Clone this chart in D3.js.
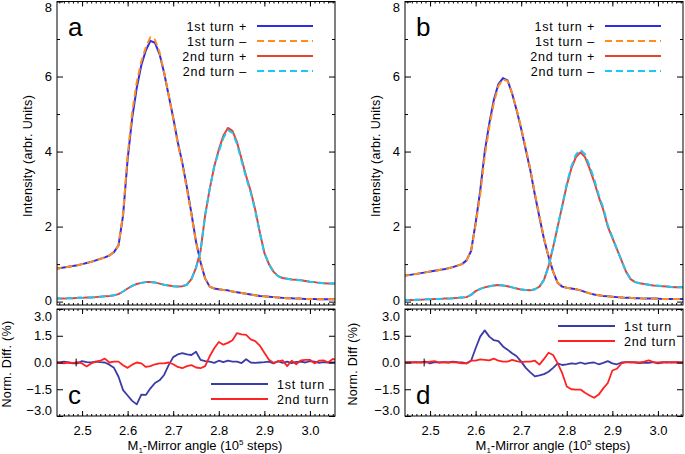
<!DOCTYPE html>
<html>
<head>
<meta charset="utf-8">
<script src="https://cdn.jsdelivr.net/npm/d3@7"></script>
<style>
  body { margin: 0; background: #fff; }
  svg { display: block; font-family: "Liberation Sans", Arial, sans-serif; }
</style>
</head>
<body>
<svg id="chart" width="685" height="454"></svg>
<script>
// mirror angle, 10^5 steps
const angle = [2.44, 2.45, 2.46, 2.47, 2.48, 2.49, 2.50, 2.51, 2.52, 2.53, 2.54, 2.55, 2.56, 2.57, 2.58, 2.59,
  2.60, 2.61, 2.62, 2.63, 2.64, 2.65, 2.66, 2.67, 2.68, 2.69, 2.70, 2.71, 2.72, 2.73, 2.74, 2.75, 2.76, 2.77, 2.78, 2.79,
  2.80, 2.81, 2.82, 2.83, 2.84, 2.85, 2.86, 2.87, 2.88, 2.89, 2.90, 2.91, 2.92, 2.93, 2.94, 2.95, 2.96, 2.97, 2.98, 2.99,
  3.00, 3.01, 3.02, 3.03, 3.04, 3.05, 3.06];

// panel a intensities
const a1stPlus = [0.87, 0.89, 0.91, 0.93, 0.95, 0.97, 1.00, 1.03, 1.06, 1.10, 1.14, 1.18, 1.23, 1.32, 1.50, 2.30,
  3.80, 4.90, 5.70, 6.30, 6.70, 6.95, 6.90, 6.60, 6.10, 5.50, 4.90, 4.25, 3.70, 3.05, 2.35, 1.60, 1.05, 0.62, 0.40, 0.35,
  0.33, 0.31, 0.30, 0.27, 0.25, 0.23, 0.21, 0.19, 0.17, 0.15, 0.14, 0.13, 0.12, 0.11, 0.10, 0.09, 0.09, 0.08, 0.08, 0.07,
  0.07, 0.07, 0.06, 0.06, 0.06, 0.06, 0.06];
const a1stMinus = [0.87, 0.89, 0.91, 0.93, 0.95, 0.97, 1.00, 1.03, 1.06, 1.10, 1.14, 1.18, 1.23, 1.32, 1.50, 2.35,
  3.90, 5.05, 5.85, 6.40, 6.78, 7.05, 6.98, 6.65, 6.12, 5.50, 4.88, 4.22, 3.66, 3.00, 2.32, 1.58, 1.05, 0.62, 0.40, 0.35,
  0.33, 0.31, 0.30, 0.27, 0.25, 0.23, 0.21, 0.19, 0.17, 0.15, 0.14, 0.13, 0.12, 0.11, 0.10, 0.09, 0.09, 0.08, 0.08, 0.07,
  0.07, 0.07, 0.06, 0.06, 0.06, 0.06, 0.06];
const a2ndPlus = [0.08, 0.08, 0.08, 0.09, 0.09, 0.10, 0.10, 0.11, 0.11, 0.12, 0.13, 0.14, 0.15, 0.17, 0.20, 0.27,
  0.35, 0.42, 0.47, 0.50, 0.52, 0.52, 0.51, 0.48, 0.45, 0.43, 0.41, 0.40, 0.41, 0.45, 0.60, 0.90, 1.35, 2.30, 3.00, 3.60,
  4.05, 4.42, 4.63, 4.55, 4.25, 3.80, 3.35, 2.95, 2.45, 1.85, 1.30, 1.00, 0.80, 0.68, 0.63, 0.61, 0.59, 0.58, 0.57, 0.55,
  0.53, 0.52, 0.50, 0.49, 0.48, 0.48, 0.48];
const a2ndMinus = [0.08, 0.08, 0.08, 0.09, 0.09, 0.10, 0.10, 0.11, 0.11, 0.12, 0.13, 0.14, 0.15, 0.17, 0.20, 0.27,
  0.35, 0.42, 0.47, 0.50, 0.52, 0.52, 0.51, 0.48, 0.45, 0.43, 0.41, 0.40, 0.41, 0.45, 0.60, 0.90, 1.35, 2.30, 3.00, 3.60,
  4.00, 4.36, 4.57, 4.50, 4.20, 3.75, 3.30, 2.91, 2.42, 1.83, 1.30, 1.00, 0.80, 0.68, 0.63, 0.61, 0.59, 0.58, 0.57, 0.55,
  0.53, 0.52, 0.50, 0.49, 0.48, 0.48, 0.48];

// panel b intensities
const b1stPlus = [0.69, 0.70, 0.72, 0.74, 0.76, 0.78, 0.80, 0.82, 0.84, 0.86, 0.89, 0.92, 0.96, 1.00, 1.10, 1.35,
  2.10, 2.95, 4.00, 4.75, 5.38, 5.80, 5.96, 5.90, 5.55, 5.10, 4.60, 4.05, 3.50, 2.85, 2.25, 1.67, 1.20, 0.80, 0.50, 0.40,
  0.37, 0.35, 0.33, 0.30, 0.26, 0.22, 0.19, 0.17, 0.15, 0.14, 0.13, 0.12, 0.11, 0.10, 0.10, 0.09, 0.09, 0.08, 0.08, 0.08,
  0.08, 0.07, 0.07, 0.07, 0.07, 0.07, 0.07];
const b1stMinus = [0.69, 0.70, 0.72, 0.74, 0.76, 0.78, 0.80, 0.82, 0.84, 0.86, 0.89, 0.92, 0.96, 1.00, 1.10, 1.35,
  2.05, 2.85, 3.88, 4.66, 5.30, 5.75, 5.92, 5.88, 5.55, 5.12, 4.63, 4.09, 3.54, 2.89, 2.28, 1.69, 1.20, 0.80, 0.50, 0.40,
  0.37, 0.35, 0.33, 0.30, 0.26, 0.22, 0.19, 0.17, 0.15, 0.14, 0.13, 0.12, 0.11, 0.10, 0.10, 0.09, 0.09, 0.08, 0.08, 0.08,
  0.08, 0.07, 0.07, 0.07, 0.07, 0.07, 0.07];
const b2ndPlus = [0.04, 0.04, 0.04, 0.05, 0.05, 0.06, 0.06, 0.07, 0.07, 0.08, 0.08, 0.09, 0.10, 0.11, 0.12, 0.18,
  0.28, 0.34, 0.38, 0.41, 0.43, 0.44, 0.43, 0.41, 0.38, 0.35, 0.32, 0.31, 0.30, 0.33, 0.40, 0.58, 0.95, 1.45, 2.00, 2.55,
  3.10, 3.55, 3.85, 3.98, 3.85, 3.55, 3.20, 2.80, 2.45, 2.00, 1.70, 1.40, 1.10, 0.80, 0.60, 0.52, 0.49, 0.47, 0.45, 0.43,
  0.42, 0.41, 0.40, 0.39, 0.38, 0.38, 0.38];
const b2ndMinus = [0.04, 0.04, 0.04, 0.05, 0.05, 0.06, 0.06, 0.07, 0.07, 0.08, 0.08, 0.09, 0.10, 0.11, 0.12, 0.18,
  0.28, 0.34, 0.38, 0.41, 0.43, 0.44, 0.43, 0.41, 0.38, 0.35, 0.32, 0.31, 0.30, 0.33, 0.40, 0.58, 0.94, 1.44, 2.00, 2.55,
  3.15, 3.60, 3.92, 4.05, 3.93, 3.62, 3.27, 2.85, 2.50, 2.04, 1.72, 1.40, 1.10, 0.80, 0.60, 0.52, 0.49, 0.47, 0.45, 0.43,
  0.42, 0.41, 0.40, 0.39, 0.38, 0.38, 0.38];

// normalized differences, %
const c1st = [0.00, 0.00, 0.05, 0.00, -0.05, -0.05, 0.08, 0.02, 0.00, 0.05, 0.02, 0.00, -0.12, -0.30, -0.80, -1.55,
  -1.85, -2.15, -2.35, -1.80, -1.82, -1.45, -1.15, -1.00, -0.70, -0.15, 0.30, 0.45, 0.52, 0.45, 0.42, 0.60, 0.15, 0.08, 0.05, -0.02,
  0.10, 0.02, 0.10, 0.05, 0.05, -0.03, 0.18, 0.00, -0.02, 0.00, 0.02, 0.05, -0.05, 0.08, -0.02, 0.05, -0.03, 0.03, 0.05, 0.00,
  0.08, 0.05, -0.02, 0.02, 0.00, 0.00, 0.02];
const c2nd = [0.00, 0.00, -0.05, 0.00, -0.02, 0.02, -0.05, -0.22, -0.05, 0.05, 0.10, 0.22, 0.00, 0.05, 0.05, -0.15,
  -0.30, -0.12, 0.00, -0.05, -0.25, -0.20, -0.10, -0.05, -0.05, 0.00, -0.10, -0.25, -0.32, -0.20, -0.15, -0.28, -0.32, -0.20, 0.35, 0.80,
  1.15, 1.00, 1.10, 1.25, 1.65, 1.58, 1.55, 1.30, 1.20, 0.95, 0.55, 0.15, -0.02, 0.05, 0.12, -0.20, 0.10, -0.10, 0.12, 0.15,
  0.15, -0.05, 0.10, 0.12, 0.00, 0.20, 0.10];
const d1st = [0.00, 0.02, 0.00, 0.02, 0.00, 0.05, -0.05, 0.02, 0.00, 0.02, 0.00, 0.05, 0.02, 0.00, -0.05, 0.10,
  0.80, 1.45, 1.80, 1.45, 1.25, 1.20, 0.90, 0.72, 0.52, 0.35, 0.05, -0.30, -0.55, -0.78, -0.72, -0.65, -0.52, -0.30, -0.05, -0.14,
  -0.10, -0.05, -0.08, 0.00, -0.08, -0.02, 0.00, -0.10, -0.02, 0.08, -0.05, -0.10, 0.00, 0.02, 0.02, 0.00, -0.03, 0.00, -0.02, 0.02,
  -0.05, 0.00, 0.02, 0.00, 0.02, 0.00, 0.00];
const d2nd = [0.02, 0.00, 0.02, 0.00, 0.02, 0.00, 0.05, 0.08, 0.00, 0.02, 0.00, 0.02, 0.00, -0.05, -0.05, 0.10,
  0.10, 0.18, 0.15, 0.12, 0.22, 0.10, 0.05, 0.05, 0.15, 0.08, 0.02, 0.05, 0.05, 0.10, -0.12, 0.20, 0.55, 0.42, -0.05, -0.60,
  -1.35, -1.50, -1.52, -1.52, -1.70, -1.85, -1.98, -1.80, -1.45, -1.15, -0.45, -0.35, -0.05, 0.02, 0.00, 0.02, 0.00, 0.05, 0.12, 0.02,
  0.00, 0.02, 0.00, 0.02, 0.00, 0.00, 0.00];
const markAngle = [2.487];

const angleTicks = [2.5, 2.6, 2.7, 2.8, 2.9, 3.0];
const intensityTicks = [0, 2, 4, 6, 8];
const intensityMinor = [1, 3, 5, 7];
const diffTicks = [-3.0, -1.5, 0.0, 1.5, 3.0];

const C = {
    blue: "#2d2de6", orange: "#ff8c1c", red: "#e5432f", cyan: "#1ec6f7",
    dBlue: "#3b3ba8", dRed: "#ff2222"
};
const FONT = 13;

const svg = d3.select("#chart");
const defs = svg.append("defs");

function frame(id, left, top, w, h, xDomain, yDomain) {
    const x = d3.scaleLinear().domain(xDomain).range([left, left + w]);
    const y = d3.scaleLinear().domain(yDomain).range([top + h, top]);
    defs.append("clipPath").attr("id", id)
        .append("rect").attr("x", left).attr("y", top).attr("width", w).attr("height", h);
    const g = svg.append("g");
    const plot = g.append("g").attr("clip-path", `url(#${id})`);
    return { x, y, g, plot, left, top, w, h };
}

function ticks(p, yMajor, yMinor, yFmt, showX) {
    const minorX = p.x.ticks(60);
    const add = (axis, tr) => {
        const a = p.g.append("g").attr("transform", tr).call(axis);
        a.select(".domain").remove();
        a.selectAll("text").style("font-size", FONT + "px").style("font-family", "inherit");
        return a;
    };
    const bottom = `translate(0,${p.top + p.h})`, topT = `translate(0,${p.top})`;
    add(d3.axisBottom(p.x).tickValues(minorX).tickSize(-2).tickFormat(""), bottom);
    add(d3.axisTop(p.x).tickValues(minorX).tickSize(-2).tickFormat(""), topT);
    add(d3.axisTop(p.x).tickValues(angleTicks).tickSize(-5).tickFormat(""), topT);
    add(d3.axisBottom(p.x).tickValues(angleTicks).tickSize(-5).tickPadding(9.5)
        .tickFormat(showX ? d3.format(".1f") : ""), bottom);
    const yl = add(d3.axisLeft(p.y).tickValues(yMajor).tickSize(-6).tickPadding(5).tickFormat(yFmt),
        `translate(${p.left},0)`);
    add(d3.axisRight(p.y).tickValues(yMajor).tickSize(-6).tickFormat(""), `translate(${p.left + p.w},0)`);
    if (yMinor) {
        add(d3.axisLeft(p.y).tickValues(yMinor).tickSize(-3).tickFormat(""), `translate(${p.left},0)`);
        add(d3.axisRight(p.y).tickValues(yMinor).tickSize(-3).tickFormat(""), `translate(${p.left + p.w},0)`);
    }
    p.g.selectAll("line").attr("stroke", "#000");
    p.g.append("rect").attr("x", p.left).attr("y", p.top).attr("width", p.w).attr("height", p.h)
        .attr("fill", "none").attr("stroke", "#000").attr("stroke-width", 1);
    return yl;
}

function curve(p, vals, color, dash, width) {
    const line = d3.line().x((d, i) => p.x(angle[i])).y(d => p.y(d));
    p.plot.append("path").datum(vals).attr("d", line)
        .attr("fill", "none").attr("stroke", color).attr("stroke-width", width)
        .attr("stroke-dasharray", dash || null).attr("stroke-linejoin", "round");
}

function text(x, y, str, size, anchor) {
    return svg.append("text").attr("x", x).attr("y", y).attr("font-size", size)
        .attr("text-anchor", anchor || "start").text(str);
}

function xTitle(cx, y) {
    const t = svg.append("text").attr("x", cx).attr("y", y).attr("font-size", FONT).attr("text-anchor", "middle");
    t.append("tspan").text("M");
    t.append("tspan").attr("dy", 3).attr("font-size", 8).text("1");
    t.append("tspan").attr("dy", -3).text("-Mirror angle (10");
    t.append("tspan").attr("dy", -5).attr("font-size", 8).text("5");
    t.append("tspan").attr("dy", 5).text(" steps)");
}

function yTitle(x, cy, str) {
    svg.append("text").attr("transform", `translate(${x},${cy}) rotate(-90)`)
        .attr("text-anchor", "middle").attr("font-size", 12.5).attr("letter-spacing", 0.3).text(str);
}

const xDom = [2.445, 3.055];
const legendTop = ["1st turn +", "1st turn \u2013", "2nd turn +", "2nd turn \u2013"];
const legendBottom = ["1st turn", "2nd turn"];

function topPanel(id, left, letter, s1p, s1m, s2p, s2m) {
    const p = frame(id, left, 1.5, 278, 303.5, xDom, [-0.09, 8]);
    curve(p, s1p, C.blue, null, 2);
    curve(p, s1m, C.orange, "7,4", 2);
    curve(p, s2p, C.red, null, 2);
    curve(p, s2m, C.cyan, "7,4", 2);
    const yl = ticks(p, intensityTicks, intensityMinor, d3.format("d"), false);
    yl.selectAll(".tick").filter(d => d === 8).select("text").attr("dy", "0.78em");
    yl.selectAll(".tick").filter(d => d === 0).select("text").attr("dy", "0.2em");
    text(left + 11, 36, letter, 26);
    const styles = [[C.blue, null], [C.orange, "7,4"], [C.red, null], [C.cyan, "7,4"]];
    legendTop.forEach((lab, i) => {
        const yy = 26 + i * 15;
        text(left + 190, yy + 4.5, lab, 12.5, "end").attr("letter-spacing", 0.8);
        svg.append("line").attr("x1", left + 200).attr("x2", left + 256).attr("y1", yy).attr("y2", yy)
            .attr("stroke", styles[i][0]).attr("stroke-width", 2).attr("stroke-dasharray", styles[i][1]);
    });
    yTitle(left - 25, 156, "Intensity (arbr. Units)");
}

function bottomPanel(id, left, letter, s1, s2, legX, legY, yLabel) {
    const p = frame(id, left, 309, 278, 107, xDom, [-3, 3]);
    curve(p, s1, C.dBlue, null, 1.8);
    curve(p, s2, C.dRed, null, 1.8);
    markAngle.forEach(a => {
        p.plot.append("line").attr("x1", p.x(a)).attr("x2", p.x(a))
            .attr("y1", p.y(0.22)).attr("y2", p.y(-0.22)).attr("stroke", C.dBlue).attr("stroke-width", 1);
    });
    const yl = ticks(p, diffTicks, null, d3.format(".1f"), true);
    yl.selectAll(".tick text").text(d => d3.format(".1f")(d).replace("-", "\u2212"));
    yl.selectAll(".tick").filter(d => d === 3).select("text").attr("dy", "0.86em");
    yl.selectAll(".tick").filter(d => d === -3).select("text").attr("dy", "-0.1em");
    text(left + 11, 404, letter, 26);
    [C.dBlue, C.dRed].forEach((c, i) => {
        const yy = legY + i * 15;
        svg.append("line").attr("x1", legX).attr("x2", legX + 57).attr("y1", yy).attr("y2", yy)
            .attr("stroke", c).attr("stroke-width", 1.8);
        text(legX + 66, yy + 4.5, legendBottom[i], 12.5).attr("letter-spacing", 0.8);
    });
    yLabel();
    xTitle(left + 148, 450);
}

topPanel("clipA", 57, "a", a1stPlus, a1stMinus, a2ndPlus, a2ndMinus);
topPanel("clipB", 405, "b", b1stPlus, b1stMinus, b2ndPlus, b2ndMinus);
bottomPanel("clipC", 57, "c", c1st, c2nd, 211, 384, () => yTitle(11, 364, "Norm. Diff. (%)"));
bottomPanel("clipD", 405, "d", d1st, d2nd, 558, 326, () => yTitle(357, 364, "Norm. Diff (%)"));
</script>
</body>
</html>
